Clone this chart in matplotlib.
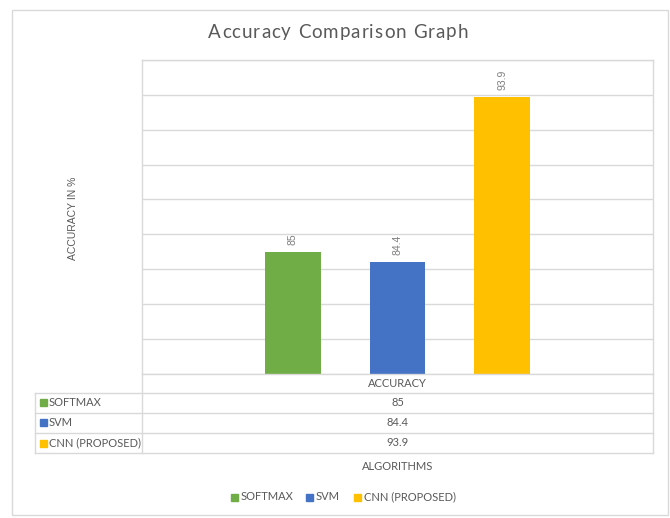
import matplotlib
matplotlib.use("Agg")
import matplotlib.pyplot as plt
from matplotlib.patches import Rectangle
from matplotlib.lines import Line2D

categories = ["SOFTMAX", "SVM", "CNN (PROPOSED)"]
values = [85, 84.4, 93.9]
value_labels = ["85", "84.4", "93.9"]
colors = ["#70AD47", "#4472C4", "#FFC000"]
group_label = "ACCURACY"
title = "Accuracy Comparison Graph"

W, H = 670, 518
fig = plt.figure(figsize=(W / 100, H / 100), dpi=100)
TXT = "#595959"
GRID = "#D9D9D9"
TF = ["Lato", "DejaVu Sans"]
AF = ["Liberation Sans", "DejaVu Sans"]

def fx(px):
    return px / W

def fy(py):
    return 1 - py / H

# outer chart border
fig.patches.append(Rectangle((fx(11.5), fy(515)), fx(668) - fx(11.5), fy(10) - fy(515),
                             transform=fig.transFigure, fill=False, edgecolor="#D9D9D9", lw=1))

L, R, T, B = 142, 653, 60, 373.5
ax = fig.add_axes([fx(L), fy(B), fx(R) - fx(L), fy(T) - fy(B)])
ax.set_ylim(78, 96)
ax.set_yticks(range(78, 97, 2))
ax.set_xlim(-2.44, 2.44)
ax.yaxis.grid(True, color=GRID, lw=1)
ax.set_axisbelow(True)
ax.tick_params(left=False, bottom=False, labelleft=False, labelbottom=False)
for s in ax.spines.values():
    s.set_color(GRID)
    s.set_linewidth(1)

xs = [-1, 0, 1]
ax.bar(xs, values, width=0.53, color=colors, bottom=0, zorder=2)
for x, v, lab in zip(xs, values, value_labels):
    ax.annotate(lab, (x, v), xytext=(0, 5), textcoords="offset points",
                rotation=90, ha="center", va="bottom", fontsize=7.5,
                color="#7F7F7F", family=AF)

# title with letter spacing
renderer = fig.canvas.get_renderer()
tsize = 13.5
def text_w(s):
    if not s:
        return 0.0
    t = fig.text(0, 0, s.replace(" ", "\u00a0") if s.endswith(" ") else s,
                 fontsize=tsize, family=TF)
    w = t.get_window_extent(renderer).width
    t.remove()
    return w
spaceless = text_w(title)
target = 260.0
spacing = (target - spaceless) / (len(title) - 1)
x0 = 338 - target / 2
for i, ch in enumerate(title):
    if ch == " ":
        continue
    px = x0 + text_w(title[:i]) + i * spacing
    fig.text(fx(px), fy(32), ch, ha="left", va="center", fontsize=tsize,
             color=TXT, family=TF)

# y label
fig.text(fx(73), fy(218), "ACCURACY IN %", rotation=90, ha="center", va="center",
         fontsize=7.5, color=TXT, family=AF)

# data table
rows_y = [373.5, 392.7, 412.7, 433.0, 453.0]
tl = dict(transform=fig.transFigure, color=GRID, lw=1)
for y in rows_y[1:]:
    fig.lines.append(Line2D([fx(35), fx(R)], [fy(y), fy(y)], **tl))
fig.lines.append(Line2D([fx(L), fx(L)], [fy(rows_y[0]), fy(rows_y[-1])], **tl))
fig.lines.append(Line2D([fx(R), fx(R)], [fy(rows_y[0]), fy(rows_y[-1])], **tl))
fig.lines.append(Line2D([fx(35), fx(35)], [fy(rows_y[1]), fy(rows_y[-1])], **tl))

mid_x = (L + R) / 2
fig.text(fx(mid_x), fy((rows_y[0] + rows_y[1]) / 2), group_label, ha="center", va="center",
         fontsize=8, color=TXT, family=TF)
for i, (c, v, col) in enumerate(zip(categories, value_labels, colors)):
    yc = (rows_y[i + 1] + rows_y[i + 2]) / 2
    fig.patches.append(Rectangle((fx(39.5), fy(yc + 3.5)), fx(7) - fx(0), fy(0) - fy(7),
                                 transform=fig.transFigure, color=col))
    fig.text(fx(49), fy(yc), c, ha="left", va="center", fontsize=8, color=TXT, family=TF)
    fig.text(fx(mid_x), fy(yc), v, ha="center", va="center", fontsize=8, color=TXT, family=TF)

# x label
fig.text(fx(398), fy(466), "ALGORITHMS", ha="center", va="center",
         fontsize=8, color=TXT, family=TF)

# legend
leg_items = [(231, "SOFTMAX"), (306, "SVM"), (354, "CNN (PROPOSED)")]
for (lx, name), col in zip(leg_items, colors):
    fig.patches.append(Rectangle((fx(lx), fy(500.5)), fx(7), fy(0) - fy(7),
                                 transform=fig.transFigure, color=col))
    fig.text(fx(lx + 10), fy(497), name, ha="left", va="center", fontsize=8,
             color=TXT, family=TF)

fig.savefig("out.png", dpi=100)
